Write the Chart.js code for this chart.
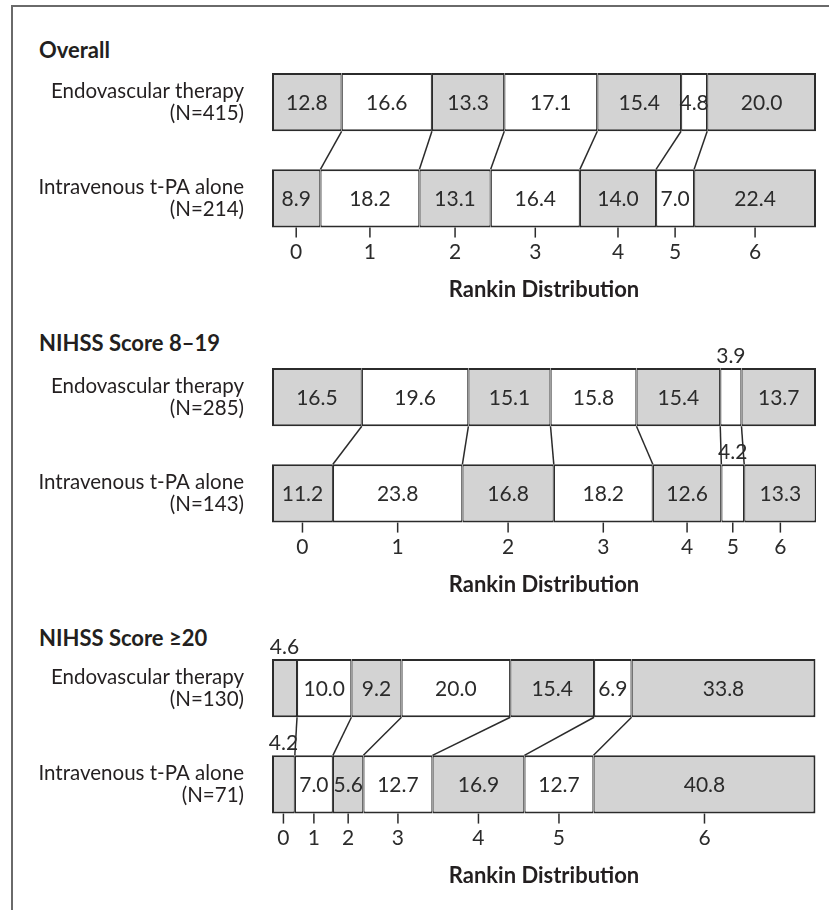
<!DOCTYPE html>
<html>
<head>
<meta charset="utf-8">
<script src="https://cdn.jsdelivr.net/npm/chart.js@4.4.1/dist/chart.umd.min.js"></script>
<style>
  html, body { margin:0; padding:0; background:#fff; }
  body { width:829px; height:910px; position:relative; overflow:hidden; font-family: Lato, "DejaVu Sans", sans-serif; }
  .frame { position:absolute; left:11px; top:5px; width:900px; height:1000px; border:2px solid #6a6a6a; }
  .ptitle { position:absolute; left:39px; font: bold 22px Lato, sans-serif; line-height:26px; color:#231f20; }
  canvas { position:absolute; left:0; }
</style>
</head>
<body>
<div class="frame"></div>
<div class="ptitle" id="t0" style="top:37px"></div>
<div class="ptitle" id="t1" style="top:330px"></div>
<div class="ptitle" id="t2" style="top:625px"></div>
<canvas id="c0" width="829" height="310" style="top:0px"></canvas>
<canvas id="c1" width="829" height="310" style="top:295px"></canvas>
<canvas id="c2" width="829" height="310" style="top:586px"></canvas>
<script>
// ---------------- DATA ----------------
const panelTitles = ['Overall', 'NIHSS Score 8\u201319', 'NIHSS Score \u226520'];
const groupNames = ['Endovascular therapy', 'Intravenous t-PA alone'];
const nEndo = [415, 285, 130];
const nIV = [214, 143, 71];
const rankinLabels = ['0', '1', '2', '3', '4', '5', '6'];
const axisTitle = 'Rankin Distribution';

const endoOverall = [12.8, 16.6, 13.3, 17.1, 15.4, 4.8, 20.0];
const ivOverall   = [8.9, 18.2, 13.1, 16.4, 14.0, 7.0, 22.4];
const endoNihss8to19 = [16.5, 19.6, 15.1, 15.8, 15.4, 3.9, 13.7];
const ivNihss8to19   = [11.2, 23.8, 16.8, 18.2, 12.6, 4.2, 13.3];
const endoNihss20 = [4.6, 10.0, 9.2, 20.0, 15.4, 6.9, 33.8];
const ivNihss20   = [4.2, 7.0, 5.6, 12.7, 16.9, 12.7, 40.8];

// ---------------- STYLE ----------------
const GRAY = '#d3d3d3';
const WHITE = '#ffffff';
const INK = '#2b2b2b';
const FONT = 'Lato, "DejaVu Sans", sans-serif';
const SMALL_LIMIT = 4.7; // segments narrower than this get their label above the bar

const panelPlugin = {
  id: 'rankinPanel',
  afterDatasetsDraw(chart) {
    const ctx = chart.ctx;
    const ds = chart.data.datasets;
    const metas = ds.map((d, i) => chart.getDatasetMeta(i));
    const props = (el) => el.getProps(['x', 'y', 'base', 'height'], true);
    ctx.save();
    // connectors between matching boundaries
    ctx.strokeStyle = INK;
    ctx.lineWidth = 1.5;
    for (let i = 0; i < metas.length - 1; i++) {
      const a = props(metas[i].data[0]);
      const b = props(metas[i].data[1]);
      ctx.beginPath();
      ctx.moveTo(a.x, a.y + a.height / 2);
      ctx.lineTo(b.x, b.y - b.height / 2);
      ctx.stroke();
    }
    // value labels
    ctx.fillStyle = INK;
    ctx.textAlign = 'center';
    ctx.textBaseline = 'middle';
    ctx.font = '21px ' + FONT;
    for (let i = 0; i < metas.length; i++) {
      for (let j = 0; j < 2; j++) {
        const p = props(metas[i].data[j]);
        const v = ds[i].data[j];
        const cx = (p.x + p.base) / 2;
        const txt = v.toFixed(1);
        if (v >= SMALL_LIMIT) {
          ctx.fillText(txt, cx, p.y + 1);
        } else {
          ctx.fillText(txt, cx, p.y - p.height / 2 - 12);
        }
      }
    }
    // Rankin ticks under lower bar
    ctx.font = '21px ' + FONT;
    for (let i = 0; i < metas.length; i++) {
      const p = props(metas[i].data[1]);
      const cx = (p.x + p.base) / 2;
      const yb = p.y + p.height / 2;
      ctx.beginPath();
      ctx.moveTo(cx, yb);
      ctx.lineTo(cx, yb + 10);
      ctx.stroke();
      ctx.fillText(rankinLabels[i], cx, yb + 25);
    }
    ctx.restore();
  }
};

function makePanel(canvasId, endo, iv, ne, ni) {
  const datasets = rankinLabels.map((lab, i) => ({
    label: 'mRS ' + lab,
    data: [endo[i], iv[i]],
    backgroundColor: i % 2 === 0 ? GRAY : WHITE,
    borderColor: INK,
    borderWidth: { top: 2, bottom: 2, left: i === 0 ? 2 : 1.2, right: i === rankinLabels.length - 1 ? 2 : 1.2 },
    borderSkipped: false,
    barPercentage: 0.605,
    categoryPercentage: 1.0
  }));
  return new Chart(document.getElementById(canvasId), {
    type: 'bar',
    data: {
      labels: [[groupNames[0], '(N=' + ne + ')'], [groupNames[1], '(N=' + ni + ')']],
      datasets
    },
    options: {
      indexAxis: 'y',
      responsive: false,
      animation: false,
      events: [],
      layout: { padding: { top: 54, bottom: 7, left: 0, right: 13 } },
      plugins: { legend: { display: false }, tooltip: { enabled: false }, title: { display: false } },
      scales: {
        x: {
          stacked: true, min: 0, max: 100,
          grid: { display: false, drawTicks: false },
          border: { display: false },
          ticks: { display: false },
          title: { display: true, text: axisTitle, color: '#231f20',
                   font: { family: FONT, size: 22, weight: 'bold', lineHeight: 1.2 },
                   padding: { top: 30, bottom: 0 } }
        },
        y: {
          stacked: true,
          grid: { display: false, drawTicks: false },
          border: { display: false },
          afterFit(scale) { scale.width = 272; },
          ticks: { color: '#231f20', padding: 28,
                   font: { family: FONT, size: 20.5, lineHeight: 1.05 } }
        }
      }
    },
    plugins: [panelPlugin]
  });
}

panelTitles.forEach((t, i) => { document.getElementById('t' + i).textContent = t; });
makePanel('c0', endoOverall, ivOverall, nEndo[0], nIV[0]);
makePanel('c1', endoNihss8to19, ivNihss8to19, nEndo[1], nIV[1]);
makePanel('c2', endoNihss20, ivNihss20, nEndo[2], nIV[2]);
</script>
</body>
</html>
